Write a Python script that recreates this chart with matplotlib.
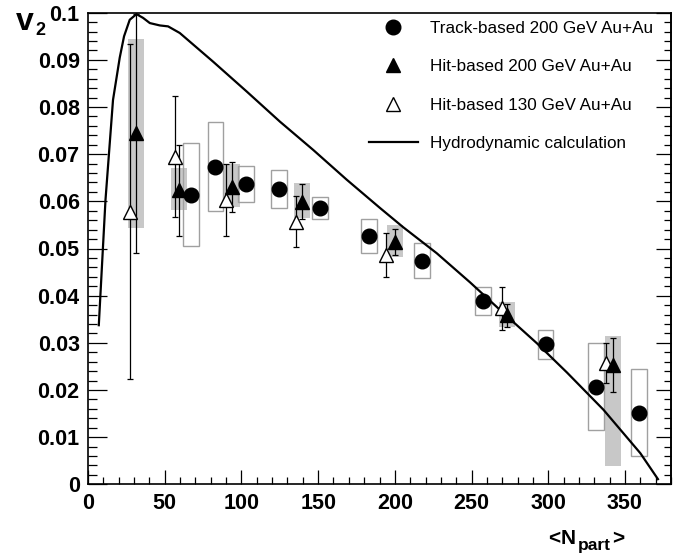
import matplotlib
matplotlib.use("Agg")
import matplotlib.pyplot as plt
from matplotlib.patches import Rectangle
from matplotlib.lines import Line2D
from matplotlib.ticker import MultipleLocator
import numpy as np

# Track-based 200 GeV Au+Au (filled circles, open systematic boxes)
npart_track = [67.0, 83.1, 102.9, 124.6, 151.4, 183.3, 217.5, 257.3, 298.2, 331.1, 359.3]
v2_track = [0.0613, 0.0673, 0.0637, 0.0626, 0.0585, 0.0527, 0.0474, 0.0389, 0.0297, 0.0207, 0.0152]
sys_track_hi = [0.0723, 0.0768, 0.0674, 0.0666, 0.0610, 0.0563, 0.0511, 0.0418, 0.0327, 0.0300, 0.0245]
sys_track_lo = [0.0506, 0.0580, 0.0598, 0.0585, 0.0563, 0.0490, 0.0437, 0.0360, 0.0266, 0.0115, 0.0059]

# Hit-based 200 GeV Au+Au (filled triangles, grey systematic bands)
npart_hit200 = [31.4, 59.2, 94.0, 139.4, 200.1, 273.0, 341.9]
v2_hit200 = [0.0744, 0.0623, 0.0631, 0.0599, 0.0514, 0.0358, 0.0253]
err_hit200 = [0.0254, 0.0096, 0.0053, 0.0037, 0.0028, 0.0025, 0.0058]
sys_hit200_hi = [0.0944, 0.0671, 0.0679, 0.0639, 0.0550, 0.0387, 0.0314]
sys_hit200_lo = [0.0544, 0.0582, 0.0589, 0.0564, 0.0481, 0.0333, 0.0039]

# Hit-based 130 GeV Au+Au (open triangles)
npart_hit130 = [27.2, 56.4, 89.8, 135.5, 194.3, 269.7, 337.6]
v2_hit130 = [0.0578, 0.0695, 0.0603, 0.0557, 0.0486, 0.0373, 0.0257]
err_hit130 = [0.0355, 0.0129, 0.0076, 0.0054, 0.0046, 0.0046, 0.0043]

# Hydrodynamic calculation
npart_hydro = [7.0, 11.4, 16.3, 20.7, 23.5, 27.2, 31.6, 35.9, 40.3, 46.8, 52.2, 59.8,
               81.6, 103.4, 125.1, 146.8, 168.6, 190.3, 205.5, 227.3, 249.1, 270.8,
               292.6, 312.2, 336.0, 360.0, 371.9]
v2_hydro = [0.0335, 0.0603, 0.0815, 0.0905, 0.0950, 0.0985, 0.0997, 0.0989, 0.0978, 0.0973,
            0.0971, 0.0957, 0.0896, 0.0833, 0.0769, 0.0709, 0.0646, 0.0586, 0.0545, 0.0490,
            0.0428, 0.0363, 0.0299, 0.0237, 0.0158, 0.0066, 0.0009]

legend_labels = ["Track-based 200 GeV Au+Au", "Hit-based 200 GeV Au+Au",
                 "Hit-based 130 GeV Au+Au", "Hydrodynamic calculation"]

W, H = 689, 556
fig = plt.figure(figsize=(W / 100, H / 100), dpi=100)
ax = fig.add_axes([88 / W, 1 - 484.3 / H, (671 - 88) / W, (484.3 - 12.7) / H])
ax.set_xlim(0, 380)
ax.set_ylim(0, 0.1)

box_hw = 5.2
grey_fill = "#c8c8c8"
grey_edge = "#a0a0a0"

# systematic bands for hit-based 200 GeV
for x, lo, hi in zip(npart_hit200, sys_hit200_lo, sys_hit200_hi):
    ax.add_patch(Rectangle((x - box_hw, lo), 2 * box_hw, hi - lo,
                           facecolor=grey_fill, edgecolor="none", zorder=1))
# systematic boxes for track-based
for x, lo, hi in zip(npart_track, sys_track_lo, sys_track_hi):
    ax.add_patch(Rectangle((x - box_hw, lo), 2 * box_hw, hi - lo,
                           facecolor="none", edgecolor=grey_edge, linewidth=1.0, zorder=2))

ax.plot(npart_hydro, v2_hydro, color="black", linewidth=1.6, zorder=3, solid_capstyle="butt")

ax.errorbar(npart_hit130, v2_hit130, yerr=err_hit130, fmt="none", ecolor="black",
            elinewidth=0.9, capsize=2, capthick=0.9, zorder=4)
ax.errorbar(npart_hit200, v2_hit200, yerr=err_hit200, fmt="none", ecolor="black",
            elinewidth=0.9, capsize=2, capthick=0.9, zorder=4)

ax.plot(npart_hit130, v2_hit130, linestyle="none", marker="^", markersize=10.5,
        markerfacecolor="white", markeredgecolor="black", markeredgewidth=1.0, zorder=5)
ax.plot(npart_hit200, v2_hit200, linestyle="none", marker="^", markersize=10.5,
        markerfacecolor="black", markeredgecolor="black", zorder=6)
ax.plot(npart_track, v2_track, linestyle="none", marker="o", markersize=10.5,
        markerfacecolor="black", markeredgecolor="black", zorder=6)

# axes styling
for s in ax.spines.values():
    s.set_linewidth(1.2)
ax.xaxis.set_major_locator(MultipleLocator(50))
ax.xaxis.set_minor_locator(MultipleLocator(10))
ax.yaxis.set_major_locator(MultipleLocator(0.01))
ax.yaxis.set_minor_locator(MultipleLocator(0.002))
ax.tick_params(axis="x", which="major", direction="in", length=10, width=0.9, top=False, pad=6)
ax.tick_params(axis="x", which="minor", direction="in", length=5, width=0.9, top=False)
ax.tick_params(axis="y", which="major", direction="in", length=13.5, width=0.9, right=False, pad=6)
ax.tick_params(axis="y", which="minor", direction="in", length=6.5, width=0.9, right=False)

tick_font = dict(family="Liberation Sans", weight="bold", size=15.5)
xt = np.arange(0, 351, 50)
ax.set_xticks(xt)
ax.set_xticklabels([f"{int(v)}" for v in xt], **tick_font)
yt = np.round(np.arange(0, 0.1001, 0.01), 2)
ax.set_yticks(yt)
ax.set_yticklabels(["0"] + [f"{v:g}" for v in yt[1:]], **tick_font)
ax.set_xlim(0, 380)
ax.set_ylim(0, 0.1)

sec = ax.secondary_yaxis("right")
sec.yaxis.set_major_locator(MultipleLocator(0.01))
sec.yaxis.set_minor_locator(MultipleLocator(0.002))
sec.tick_params(axis="y", which="major", direction="in", length=11, width=0.9, labelright=False)
sec.tick_params(axis="y", which="minor", direction="in", length=5, width=0.9)
sec.spines["right"].set_linewidth(1.2)

# axis titles
title_font = dict(family="Liberation Sans", fontweight="bold", ha="left", va="baseline")
fig.text(16 / W, 1 - 30 / H, "v", fontsize=23, **title_font)
fig.text(35 / W, 1 - 35 / H, "2", fontsize=13, **title_font)
fig.text(548 / W, 1 - 544 / H, "<", fontsize=15, **title_font)
fig.text(561 / W, 1 - 544 / H, "N", fontsize=15, **title_font)
fig.text(578 / W, 1 - 550 / H, "part", fontsize=12.5, **title_font)
fig.text(612 / W, 1 - 544 / H, ">", fontsize=15, **title_font)

# legend
handles = [
    Line2D([], [], linestyle="none", marker="o", markersize=10.5, color="black"),
    Line2D([], [], linestyle="none", marker="^", markersize=10.5, color="black"),
    Line2D([], [], linestyle="none", marker="^", markersize=10.5, markerfacecolor="white",
           markeredgecolor="black"),
    Line2D([], [], color="black", linewidth=1.6),
]
leg = fig.legend(handles, legend_labels, loc="upper left",
                 bbox_to_anchor=(360 / W, 1 - 12 / H), frameon=False,
                 prop=dict(family="Liberation Sans", size=12.3),
                 handlelength=2.9, handletextpad=0.7, labelspacing=1.38, borderpad=0)

fig.savefig("out.png", dpi=100)
